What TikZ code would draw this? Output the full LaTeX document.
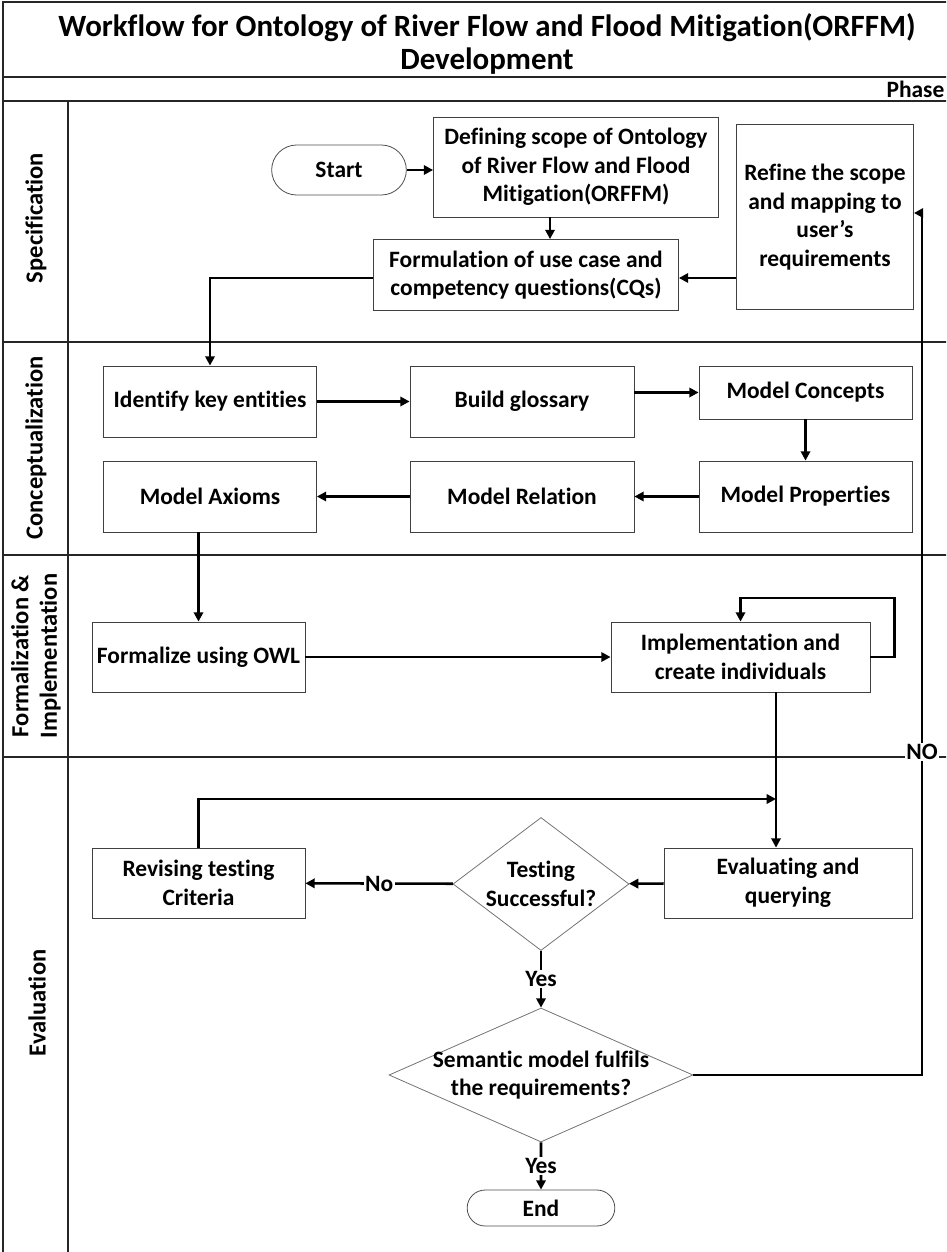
\documentclass[tikz,border=0pt]{standalone}
\usepackage{fontspec}
\setmainfont{Carlito}[Ligatures={TeX,NoCommon}]
\usetikzlibrary{arrows.meta, shapes.geometric, shapes.misc}

\begin{document}
\begin{tikzpicture}[x=0.75pt, y=-0.75pt,
	every node/.style={font=\bfseries\fontsize{17.6}{21.4}\selectfont, align=center},
	sz/.style 2 args={minimum width=#1*0.75pt, minimum height=#2*0.75pt},
	box/.style={draw=black!75, line width=0.6pt, rectangle, inner sep=2pt},
	term/.style={draw=black!70, line width=0.6pt, rounded rectangle, inner sep=2pt},
	decision/.style={draw=black!55, line width=0.6pt, diamond, inner sep=0pt},
	flow/.style={line width=1.9pt, -{Triangle[length=7pt,width=7pt]}},
	lane/.style={draw=black!85, line width=0.8pt},
	lanetext/.style={rotate=90, font=\bfseries\fontsize{18.4}{21.4}\selectfont},
	tag/.style={fill=white, inner sep=1pt}]
	\useasboundingbox (0,0) rectangle (946,1252);
	\clip (0,0) rectangle (946,1252);
	\draw[lane] (3,1260) -- (3,2) -- (960,2);
	\draw[lane] (3,77) -- (960,77);
	\draw[lane] (3,101) -- (960,101);
	\draw[lane] (3,342) -- (960,342);
	\draw[lane] (3,555) -- (960,555);
	\draw[lane] (3,757) -- (960,757);
	\draw[lane] (68,101) -- (68,1260);
	\node[font=\bfseries\fontsize{23.2}{24.75}\selectfont] (title) at (487,44) {Workflow for Ontology of River Flow and Flood Mitigation(ORFFM)\\Development};
	\node[anchor=east, inner sep=1pt] (phase) at (946,89) {Phase};
	\node[lanetext] (spec) at (36,218) {Specification};
	\node[lanetext] (concept) at (36,448) {Conceptualization};
	\node[lanetext] (formal) at (36,656) {Formalization \&\\Implementation};
	\node[lanetext] (evaluation) at (37,1003) {Evaluation};

	\node[term, sz={140}{50}] (start) at (339,170) {Start};
	\node[box, sz={285}{100}] (scope) at (576,167) {Defining scope of Ontology\\of River Flow and Flood\\Mitigation(ORFFM)};
	\node[box, sz={305}{71}] (cq) at (526,275) {Formulation of use case and\\competency questions(CQs)};
	\node[box, sz={177}{185}] (refine) at (825,217) {Refine the scope\\and mapping to\\user’s\\requirements};
	\node[box, sz={213}{71}] (ident) at (210,401.5) {Identify key entities};
	\node[box, sz={224}{71}] (gloss) at (522,401.5) {Build glossary};
	\node[box, sz={213}{53}] (concepts) at (805.5,392.5) {Model Concepts};
	\node[box, sz={213}{71}] (props) at (805.5,496.5) {Model Properties};
	\node[box, sz={224}{71}] (rel) at (522,496.5) {Model Relation};
	\node[box, sz={213}{71}] (axioms) at (210,496.5) {Model Axioms};
	\node[box, sz={213}{70}] (owl) at (198.5,657) {Formalize using OWL};
	\node[box, sz={259}{70}] (impl) at (740.5,657) {Implementation and\\create individuals};
	\node[box, sz={248}{70}] (evalq) at (788,883) {Evaluating and\\querying};
	\node[box, sz={213}{70}] (revise) at (198.5,883) {Revising testing\\Criteria};
	\node[decision, sz={176}{133}] (test) at (541,884) {};
	\node (testtxt) at (test) {Testing\\Successful?};
	\node[decision, sz={304}{134}] (sem) at (541,1075) {};
	\node (semtxt) at (sem) {Semantic model fulfils\\the requirements?};
	\node[term, sz={153}{36}] (end) at (541,1208) {End};
	\coordinate (join) at (776,799);

	\draw[flow] (start.east) -- (start.east -| scope.west);
	\draw[flow] (scope.south -| 550,0) -- (cq.north -| 550,0);
	\draw[flow] (refine.west |- 0,278) -- (cq.east |- 0,278);
	\draw[flow] (cq.west |- 0,278) -| (ident.north);
	\draw[flow] (ident) -- (gloss);
	\draw[flow] (gloss.east |- concepts) -- (concepts);
	\draw[flow] (concepts) -- (props);
	\draw[flow] (props) -- (rel);
	\draw[flow] (rel) -- (axioms);
	\draw[flow] (axioms.south -| owl) -- (owl);
	\draw[flow] (owl) -- (impl);
	\draw[flow] (impl.east) -- ++(24,0) -- ++(0,-59) -| (impl.north);
	\draw[flow] (impl.south -| join) -- (evalq.north -| join);
	\draw[flow] (revise.north) |- (join);
	\draw[flow] (evalq) -- (test);
	\draw[flow] (test) -- node[tag] (no) {No} (revise);
	\draw[flow] (test) -- node[tag] (yes1) {Yes} (sem);
	\draw[flow] (sem) -- node[tag] (yes2) {Yes} (end);
	\draw[flow] (sem.east) -- (922,1075) -- node[tag, pos=0.375] (nolbl) {NO} (922,213) -- (refine.east |- 0,213);
\end{tikzpicture}
\end{document}
